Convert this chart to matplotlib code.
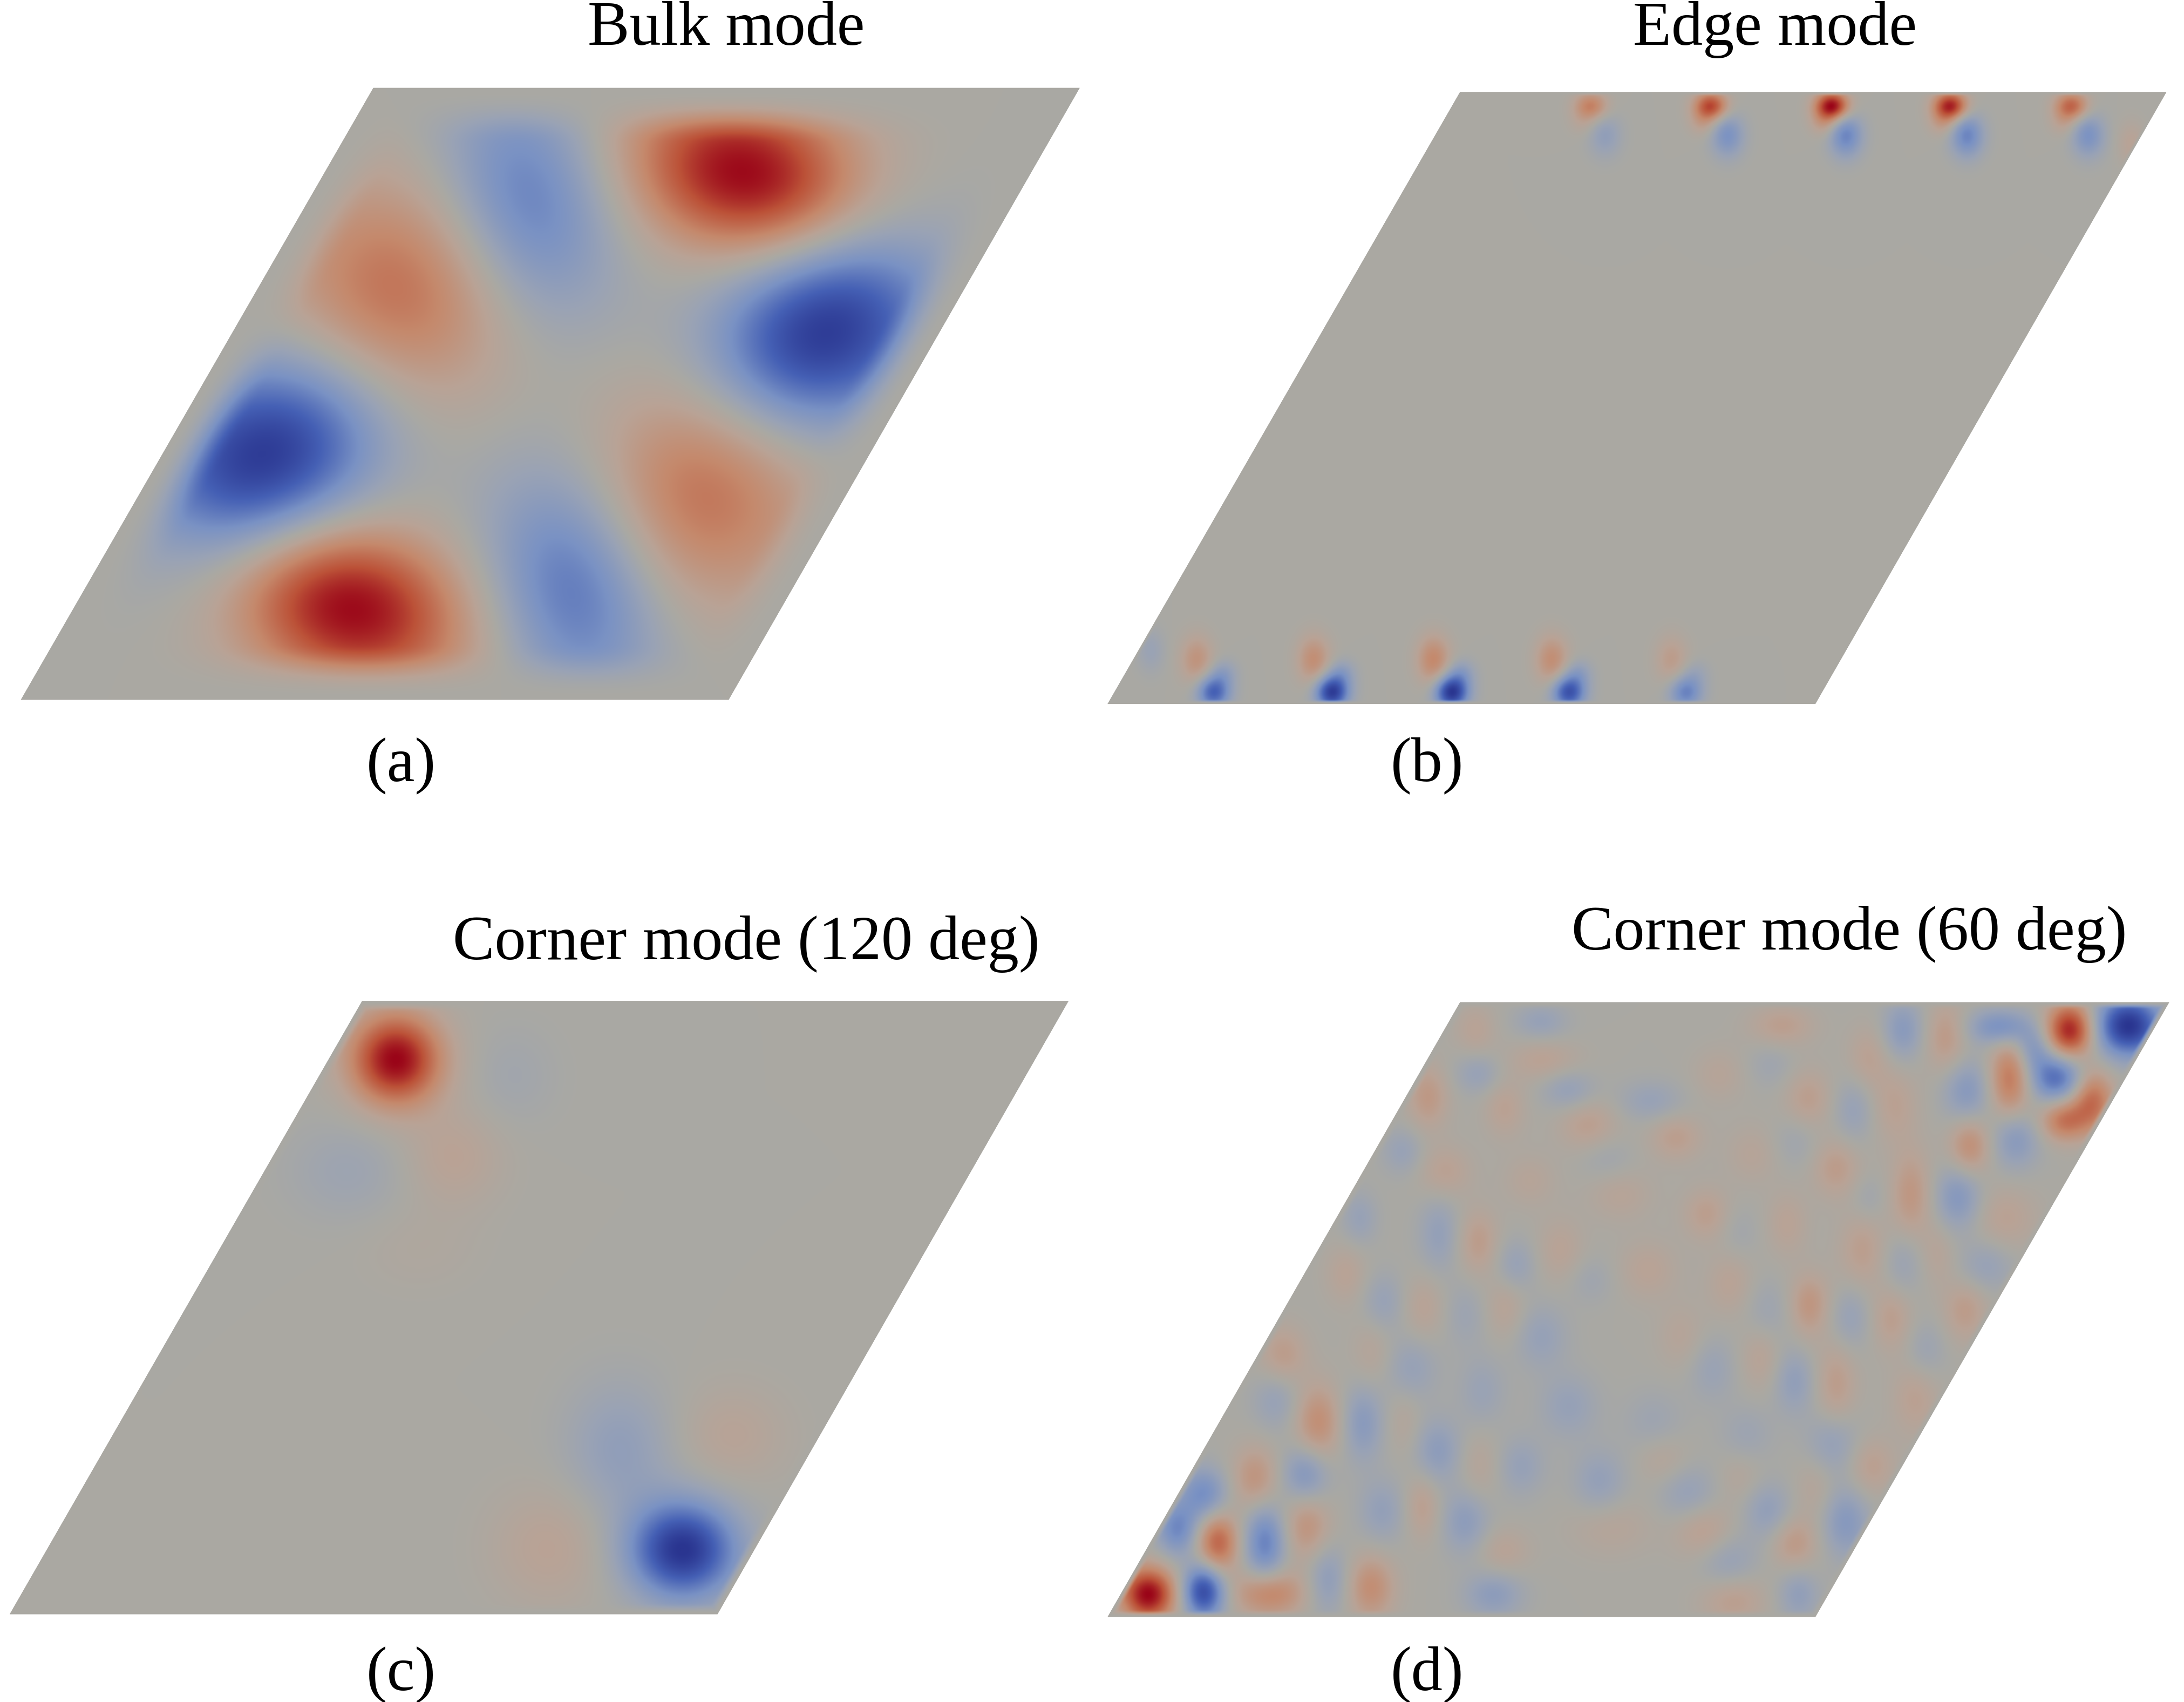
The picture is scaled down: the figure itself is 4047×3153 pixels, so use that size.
import numpy as np
import matplotlib
matplotlib.use("Agg")
import matplotlib.pyplot as plt
from matplotlib.colors import LinearSegmentedColormap
from matplotlib.patches import Polygon

# lobes: x, y, amplitude, width x, width y, (tilt in deg)
bulk_lobes = [
    (535, 125, 1.0, 46, 32, -15), (378, 145, -0.55, 33, 47, 15),
    (285, 210, 0.55, 46, 45, -30), (590, 238, -1.0, 47, 36, 30),
    (190, 328, -1.0, 47, 36, 30), (505, 350, 0.55, 44, 46, -30),
    (412, 420, -0.6, 33, 47, 15), (250, 435, 1.0, 46, 32, -15),
]
edge_lobes = [
    (1142, 76, 0.45, 6, 5), (1228, 76, 0.75, 6, 5), (1315, 76, 1.0, 6, 5),
    (1400, 76, 0.9, 6, 5), (1487, 76, 0.6, 6, 5),
    (1136, 88, 0.1, 5, 5), (1222, 88, 0.18, 5, 5), (1309, 88, 0.22, 5, 5),
    (1394, 88, 0.2, 5, 5), (1481, 88, 0.15, 5, 5),
    (1152, 97, -0.22, 6, 8), (1240, 97, -0.38, 6, 8), (1325, 97, -0.48, 6, 8),
    (1412, 97, -0.48, 6, 8), (1499, 97, -0.38, 6, 8), (1530, 103, 0.15, 5, 8),
    (871, 497, -0.7, 6, 6), (956, 497, -0.95, 6, 6), (1042, 497, -1.0, 6, 6),
    (1126, 497, -0.8, 6, 6), (1210, 497, -0.5, 6, 6),
    (878, 483, -0.2, 5, 5), (963, 483, -0.22, 5, 5), (1049, 483, -0.22, 5, 5),
    (1133, 483, -0.2, 5, 5), (1217, 483, -0.12, 5, 5),
    (859, 474, 0.3, 6, 9), (943, 474, 0.35, 6, 9), (1029, 474, 0.4, 6, 9),
    (1114, 474, 0.35, 6, 9), (1200, 474, 0.22, 6, 9), (826, 467, -0.15, 5, 8),
]
corner120_lobes = [
    (284, 760, 1.0, 17, 17), (368, 772, -0.08, 16, 18), (325, 830, 0.16, 18, 18),
    (250, 840, -0.12, 22, 18), (300, 895, 0.05, 22, 16), (490, 1112, -1.0, 20, 18),
    (445, 1040, -0.22, 20, 25), (525, 1030, 0.14, 20, 18), (395, 1110, 0.16, 22, 22),
]
corner60_lobes = [
    (824, 1144, 1.0, 9, 9), (864, 1142, -0.85, 7, 9), (911, 1143, 0.45, 12, 8),
    (874, 1107, 0.6, 7, 10), (845, 1097, -0.45, 7, 9), (864, 1072, -0.42, 8, 9),
    (908, 1107, -0.5, 7, 13), (938, 1095, 0.3, 8, 12), (953, 1133, -0.25, 7, 12),
    (984, 1139, 0.35, 8, 11), (1072, 1144, -0.25, 10, 8), (937, 1058, -0.35, 8, 10),
    (901, 1061, 0.3, 8, 11), (946, 1021, 0.35, 8, 13), (978, 1021, -0.28, 7, 13),
    (916, 1005, -0.18, 8, 10), (921, 972, 0.22, 8, 10), (1032, 1041, -0.25, 8, 11),
    (992, 1084, -0.2, 8, 11), (1021, 1081, 0.2, 6, 11), (1052, 1092, -0.25, 8, 11),
    (1079, 1113, 0.15, 9, 8), (1092, 1052, -0.18, 8, 10), (1148, 1063, -0.2, 9, 11),
    (1126, 1009, -0.18, 10, 11), (1064, 998, -0.15, 8, 12), (1013, 982, -0.18, 9, 11),
    (985, 971, 0.12, 7, 12), (1106, 959, -0.18, 9, 11), (993, 934, -0.17, 7, 10),
    (1022, 938, 0.15, 7, 11), (1052, 943, -0.12, 7, 11), (1081, 938, 0.15, 7, 11),
    (1156, 1095, 0.12, 14, 10), (1062, 1052, 0.12, 7, 12), (1008, 1020, 0.1, 6, 12),
    (1325, 1092, -0.3, 8, 12), (1288, 1107, 0.25, 8, 9), (1223, 1098, 0.22, 10, 10),
    (1269, 1084, -0.22, 8, 10), (1212, 1072, -0.2, 10, 10), (1240, 1121, -0.2, 10, 10),
    (1244, 1147, 0.22, 11, 9), (1291, 1144, -0.22, 7, 9), (1316, 1035, -0.22, 9, 11),
    (1343, 1052, 0.2, 8, 10), (1375, 1003, 0.18, 8, 13), (1318, 994, 0.22, 7, 15),
    (1288, 991, -0.22, 7, 11), (1264, 974, 0.15, 7, 11), (1229, 982, -0.15, 8, 11),
    (1254, 1029, -0.12, 9, 10), (1194, 1047, 0.13, 9, 9), (1249, 1060, 0.1, 8, 9),
    (1303, 1067, 0.12, 7, 11), (1187, 1021, -0.12, 10, 11), (1207, 959, 0.12, 8, 11),
    (1269, 940, -0.12, 8, 11), (1298, 940, 0.14, 6, 11), (1328, 945, -0.18, 7, 11),
    (1358, 946, 0.2, 7, 11), (1382, 969, -0.14, 7, 10), (1410, 945, 0.14, 7, 10),
    (1059, 739, 0.15, 7, 9), (1106, 733, -0.18, 9, 6), (1061, 770, -0.18, 8, 7),
    (1108, 761, 0.17, 12, 7), (1025, 787, 0.25, 7, 11), (1080, 795, 0.17, 7, 10),
    (1126, 782, -0.2, 9, 7), (1185, 790, -0.17, 11, 7), (1140, 807, 0.2, 10, 9),
    (1203, 816, 0.2, 9, 8), (1234, 771, 0.12, 9, 9), (1007, 826, -0.17, 7, 8),
    (1037, 841, 0.18, 9, 9), (1098, 847, 0.12, 9, 9), (1153, 831, -0.1, 9, 8),
    (1163, 857, 0.13, 11, 9), (1225, 871, 0.2, 8, 9), (976, 874, -0.17, 6, 9),
    (1033, 885, -0.2, 7, 13), (1061, 891, 0.22, 7, 11), (1120, 897, 0.15, 8, 11),
    (1088, 908, -0.18, 7, 9), (1183, 911, 0.15, 10, 10), (1142, 918, -0.1, 8, 8),
    (966, 914, 0.15, 7, 10), (1242, 921, 0.15, 8, 11),
    (1528, 736, -1.0, 11, 10), (1486, 739, 0.9, 8, 9), (1437, 737, -0.42, 11, 6),
    (1460, 753, -0.3, 6, 7), (1476, 773, -0.62, 9, 8), (1443, 774, 0.5, 7, 13),
    (1502, 789, 0.55, 7, 10), (1482, 804, 0.5, 8, 7), (1412, 783, -0.3, 8, 11),
    (1447, 817, -0.3, 8, 10), (1414, 822, 0.35, 7, 10), (1366, 739, -0.28, 7, 10),
    (1397, 744, 0.25, 7, 12), (1341, 759, 0.17, 7, 11), (1279, 736, 0.2, 11, 7),
    (1271, 764, -0.1, 8, 8), (1298, 788, 0.2, 8, 10), (1331, 796, -0.18, 7, 11),
    (1360, 793, 0.17, 8, 13), (1289, 819, -0.1, 8, 9), (1258, 828, 0.12, 9, 10),
    (1318, 838, 0.22, 8, 10), (1372, 857, 0.27, 7, 15), (1406, 859, -0.32, 8, 11),
    (1341, 860, -0.1, 6, 8), (1283, 878, 0.15, 7, 11), (1439, 874, 0.17, 11, 11),
    (1337, 897, 0.2, 8, 13), (1248, 884, -0.08, 7, 9), (1366, 906, -0.15, 7, 11),
    (1391, 900, 0.12, 6, 11), (1426, 908, -0.18, 9, 9), (1300, 933, 0.15, 8, 10),
    (1412, 934, 0.1, 8, 9),
]

titles = ["Bulk mode", "Edge mode", "Corner mode (120 deg)", "Corner mode (60 deg)"]
title_x = [422, 1172, 325, 1128]
title_y = [32, 32, 688, 681]
labels = ["(a)", "(b)", "(c)", "(d)"]
label_x = [263, 998, 263, 998]
label_y = [560, 560, 1212, 1212]

# lower left, lower right, upper right, upper left
outlines = [
    [(15, 502), (523, 502), (775, 63), (268, 63)],
    [(795, 505), (1303, 505), (1555, 66), (1048, 66)],
    [(7, 1158), (515, 1158), (767, 718), (260, 718)],
    [(795, 1160), (1303, 1160), (1557, 719), (1048, 719)],
]
tapers = [40, 3, 8, 5]
# the lobes were read at their visible core, the tails reach further
width_scale = [1.3, 1.4, 1.35, 1.5]

# value -1..1 mapped on 0..1
mode_cmap = LinearSegmentedColormap.from_list("mode", [
    (0.0, "#2a3590"), (0.15, "#4560b5"), (0.3, "#7a92c4"), (0.425, "#9aa3b5"),
    (0.5, "#aaa9a3"), (0.575, "#b9a396"), (0.7, "#c5896c"), (0.85, "#bc5238"),
    (1.0, "#9a0418"),
], N=1024)


def lobe_field(lobes, outline, taper, scale):
    xs = [p[0] for p in outline]
    ys = [p[1] for p in outline]
    gx = np.arange(min(xs), max(xs) + 1, 0.5)
    gy = np.arange(min(ys), max(ys) + 1, 0.5)
    X, Y = np.meshgrid(gx, gy)
    field = np.zeros_like(X)
    for lobe in lobes:
        x0, y0, amp, wx, wy = lobe[:5]
        tilt = np.radians(lobe[5]) if len(lobe) > 5 else 0.0
        dx = X - x0
        dy = Y - y0
        a = dx * np.cos(tilt) - dy * np.sin(tilt)
        b = dx * np.sin(tilt) + dy * np.cos(tilt)
        field += amp * np.exp(-0.5 * ((a / (wx * scale)) ** 2 + (b / (wy * scale)) ** 2))

    # the mode goes to zero on the plate boundary
    slope = (outline[2][0] - outline[1][0]) / (outline[1][1] - outline[2][1])
    left = (X - outline[0][0] - slope * (outline[0][1] - Y)) / np.hypot(1, slope)
    right = (outline[1][0] + slope * (outline[1][1] - Y) - X) / np.hypot(1, slope)
    bottom = outline[0][1] - Y
    top = Y - outline[2][1]
    dist = np.minimum.reduce([left, right, bottom, top])
    t = np.clip(dist / taper, 0, 1)
    field *= t * t * (3 - 2 * t)
    return field, (gx[0], gx[-1], gy[-1], gy[0])


plt.rcParams["font.family"] = ["Liberation Serif", "DejaVu Serif"]
fig = plt.figure(figsize=(40.48, 31.53), dpi=100)
ax = fig.add_axes([0, 0, 1, 1])

all_lobes = [bulk_lobes, edge_lobes, corner120_lobes, corner60_lobes]
for lobes, outline, taper, scale in zip(all_lobes, outlines, tapers, width_scale):
    field, extent = lobe_field(lobes, outline, taper, scale)
    plate = Polygon(outline, closed=True, facecolor="#aaa9a3", edgecolor="none", zorder=1)
    ax.add_patch(plate)
    im = ax.imshow(field, cmap=mode_cmap, vmin=-1, vmax=1, extent=extent,
                   interpolation="bicubic", aspect="auto", zorder=2)
    im.set_clip_path(plate)

for text, x, y in zip(titles, title_x, title_y):
    ax.text(x, y, text, fontsize=83.7, ha="left", va="baseline", color="black")
for text, x, y in zip(labels, label_x, label_y):
    ax.text(x, y, text, fontsize=83.7, ha="left", va="baseline", color="black")

ax.set_xlim(0, 1568)
ax.set_ylim(1221, 0)
ax.axis("off")
fig.savefig("out.png", dpi=100, facecolor="white")
